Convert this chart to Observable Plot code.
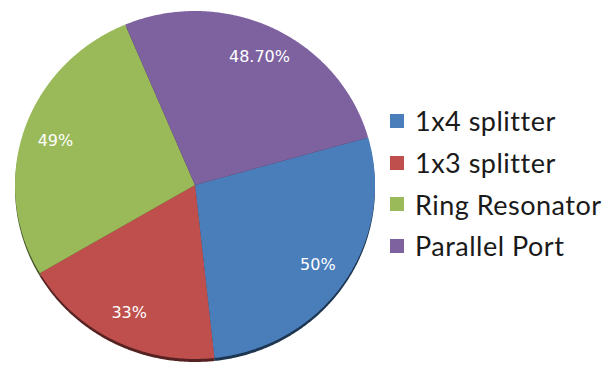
<!DOCTYPE html>
<html>
<head>
<meta charset="utf-8">
<script src="https://cdn.jsdelivr.net/npm/d3@7"></script>
<script src="https://cdn.jsdelivr.net/npm/@observablehq/plot@0.6"></script>
<style>
  html, body { margin: 0; padding: 0; background: #fff; }
  #wrap { position: relative; width: 602px; height: 367px; overflow: hidden; }
  #legend { position: absolute; left: 390px; top: 100px; font-family: Lato, "Open Sans", sans-serif; font-size: 27px; letter-spacing: 0.5px; color: #1a1a1a; }
  .row { display: flex; align-items: center; height: 41.7px; white-space: nowrap; }
  .sw { width: 14px; height: 14px; margin-right: 11px; flex: none; }
</style>
</head>
<body>
<div id="wrap"></div>
<script>
const categories = ["1x4 splitter", "1x3 splitter", "Ring Resonator", "Parallel Port"];
const values = [50, 33, 49, 48.7];
const labels = ["50%", "33%", "49%", "48.70%"];
const colors = ["#4a7ebb", "#be4f4c", "#9aba59", "#7e62a0"];
const shadowColors = ["#1e3550", "#552221", "#46562a", "#3b2d4b"];

const start = 74.2 * Math.PI / 180;
const arcs = d3.pie().sort(null).startAngle(start).endAngle(start + 2 * Math.PI)(values);

const slicePts = [];
const labelPts = [];
arcs.forEach((a, i) => {
  const n = Math.max(2, Math.ceil((a.endAngle - a.startAngle) / (Math.PI / 360)));
  for (let k = 0; k <= n; k++) {
    const t = a.startAngle + (a.endAngle - a.startAngle) * k / n;
    slicePts.push({cat: categories[i], x: Math.sin(t), y: Math.cos(t)});
  }
  const m = (a.startAngle + a.endAngle) / 2;
  labelPts.push({cat: categories[i], label: labels[i], x: 0.82 * Math.sin(m), y: 0.82 * Math.cos(m)});
});

const chart = Plot.plot({
  width: 602,
  height: 367,
  marginLeft: 15,
  marginRight: 227,
  marginTop: 11,
  marginBottom: 8,
  x: {domain: [-1, 1], axis: null},
  y: {domain: [-1, 1], axis: null},
  color: {domain: categories, range: colors},
  style: {background: "transparent"},
  marks: [
    Plot.area(slicePts, {x1: 0, y1: 0, x2: "x", y2: "y", z: "cat",
      fill: (d) => shadowColors[categories.indexOf(d.cat)], dy: 3, curve: "linear"}),
    Plot.area(slicePts, {x1: 0, y1: 0, x2: "x", y2: "y", z: "cat", fill: "cat", curve: "linear"}),
    Plot.text(labelPts, {x: "x", y: "y", text: "label", fill: "white",
      fontSize: 16, fontFamily: "DejaVu Sans"})
  ]
});
document.getElementById("wrap").appendChild(chart);

const legend = document.createElement("div");
legend.id = "legend";
categories.forEach((c, i) => {
  const row = document.createElement("div");
  row.className = "row";
  const sw = document.createElement("div");
  sw.className = "sw";
  sw.style.background = colors[i];
  const tx = document.createElement("span");
  tx.textContent = c;
  row.appendChild(sw);
  row.appendChild(tx);
  legend.appendChild(row);
});
document.getElementById("wrap").appendChild(legend);
</script>
</body>
</html>
